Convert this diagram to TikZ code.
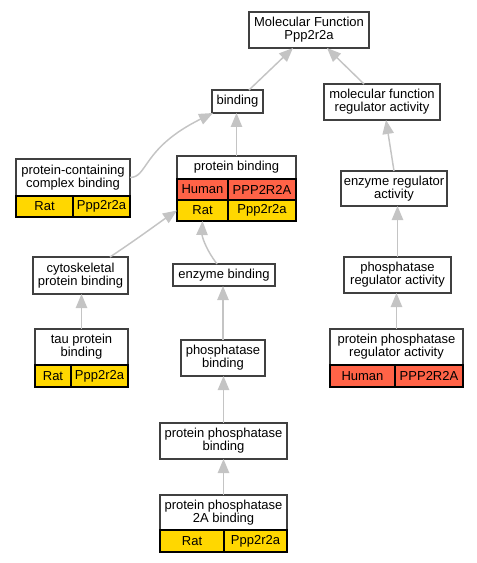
\documentclass[tikz,border=0pt]{standalone}
\usepackage{fontspec}
\setmainfont{Liberation Sans}
\usetikzlibrary{arrows.meta}
\definecolor{human}{HTML}{FF6347}
\definecolor{rat}{HTML}{FFD700}
\definecolor{boxline}{HTML}{404040}
\definecolor{edgecol}{HTML}{C4C4C4}
\tikzset{
  gbox/.style={draw=boxline, line width=1pt, inner sep=0pt, outer sep=0pt, align=center,
    font=\fontsize{9.75}{9.8}\selectfont},
  gcell/.style={gbox, draw=black, line width=0.8pt},
  edge/.style={draw=edgecol, line width=1.1pt, -{Triangle[length=10.5pt,width=8.5pt]}}
}
\newcommand\gnode[8][gbox]{\node[#1,fill=#8,minimum width={(#5-#3)*0.75pt},minimum height={(#6-#4)*0.75pt}] (#2) at ({(#3+#5)/2},{(#4+#6)/2}) {#7};}
\begin{document}
\begin{tikzpicture}[x=0.75pt,y=-0.75pt]
\useasboundingbox (0,0) rectangle (477,563);
% plain boxes
\gnode{mf}{249}{12}{369}{48}{Molecular Function\\Ppp2r2a}{white}
\gnode{binding}{212}{90}{263}{113}{binding}{white}
\gnode{mfra}{324}{84}{440}{120}{molecular function\\regulator activity}{white}
\gnode{era}{341}{171}{447}{206}{enzyme regulator\\activity}{white}
\gnode{cyto}{33}{257}{128}{294}{cytoskeletal\\protein binding}{white}
\gnode{eb}{173}{264}{275}{286}{enzyme binding}{white}
\gnode{pra}{344}{257}{451}{293}{phosphatase\\regulator activity}{white}
\gnode{phb}{181}{340}{265}{376}{phosphatase\\binding}{white}
\gnode{ppb}{160}{423}{287}{459}{protein phosphatase\\binding}{white}
% protein-containing complex binding
\gnode{pcch}{16}{159}{130}{196}{protein-containing\\complex binding}{white}
\gnode[gcell]{pccr1}{16}{196}{73}{217}{Rat}{rat}
\gnode[gcell]{pccr2}{73}{196}{130}{217}{Ppp2r2a}{rat}
% protein binding
\gnode{pbh}{177}{156}{296}{179}{protein binding}{white}
\gnode[gcell]{pbh1}{177}{179}{228}{200}{Human}{human}
\gnode[gcell]{pbh2}{228}{179}{296}{200}{PPP2R2A}{human}
\gnode[gcell]{pbr1}{177}{200}{228}{221}{Rat}{rat}
\gnode[gcell]{pbr2}{228}{200}{296}{221}{Ppp2r2a}{rat}
% tau protein binding
\gnode{tauh}{35}{329}{128}{365}{tau protein\\binding}{white}
\gnode[gcell]{taur1}{35}{365}{71}{387}{Rat}{rat}
\gnode[gcell]{taur2}{71}{365}{128}{387}{Ppp2r2a}{rat}
% protein phosphatase regulator activity
\gnode{pprah}{330}{329}{463}{365}{protein phosphatase\\regulator activity}{white}
\gnode[gcell]{pprah1}{330}{365}{395}{387}{Human}{human}
\gnode[gcell]{pprah2}{395}{365}{463}{387}{PPP2R2A}{human}
% protein phosphatase 2A binding
\gnode{pp2ah}{160}{495}{287}{530}{protein phosphatase\\2A binding}{white}
\gnode[gcell]{pp2ar1}{160}{530}{224}{552}{Rat}{rat}
\gnode[gcell]{pp2ar2}{224}{530}{287}{552}{Ppp2r2a}{rat}
% edges
\draw[edge] ([xshift=11.5*0.75pt]binding.north) -- ([xshift=-16*0.75pt]mf.south);
\draw[edge] ([xshift=-18*0.75pt]mfra.north) -- ([xshift=18*0.75pt]mf.south);
\draw[edge] (pcch.east) .. controls +(18,0) and (142,148) .. ([xshift=1*0.75pt]binding.south west);
\draw[edge] (pbh.north) -- (pbh.north |- binding.south);
\draw[edge] (era.north) -- ([xshift=4*0.75pt]mfra.south);
\draw[edge] ([xshift=29.5*0.75pt]cyto.north) .. controls +(30,-20) and (160,222) .. (pbr1.west);
\draw[edge] ([xshift=-7*0.75pt]eb.north) .. controls +(-12,-16) and (202,236) .. (pbr1.south);
\draw[edge] (pra.north) -- (pra.north |- era.south);
\draw[edge] (tauh.north) -- (tauh.north |- cyto.south);
\draw[edge] (phb.north) -- (phb.north |- eb.south);
\draw[edge] (pprah.north) -- (pprah.north |- pra.south);
\draw[edge] (ppb.north) -- (ppb.north |- phb.south);
\draw[edge] (pp2ah.north) -- (pp2ah.north |- ppb.south);
\end{tikzpicture}
\end{document}
